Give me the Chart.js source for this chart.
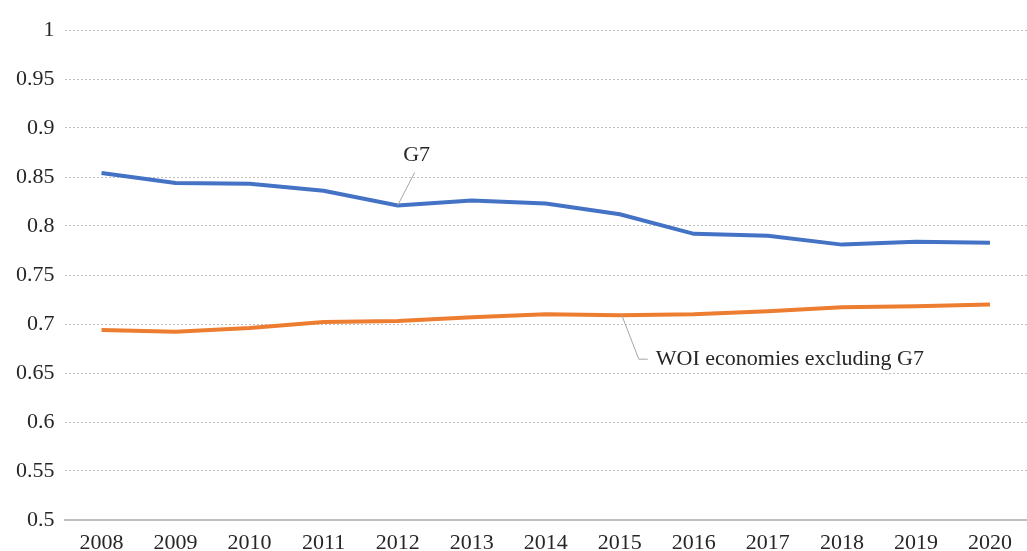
<!DOCTYPE html>
<html>
<head>
<meta charset="utf-8">
<script src="https://cdn.jsdelivr.net/npm/chart.js@4/dist/chart.umd.min.js"></script>
<style>
  html, body { margin: 0; padding: 0; background: #fff; }
  #wrap { width: 1027px; height: 551px; position: relative; }
</style>
</head>
<body>
<div id="wrap"><canvas id="chart"></canvas></div>
<script>
const years = ['2008','2009','2010','2011','2012','2013','2014','2015','2016','2017','2018','2019','2020'];
const g7 = [0.854, 0.844, 0.843, 0.836, 0.821, 0.826, 0.823, 0.812, 0.792, 0.790, 0.781, 0.784, 0.783];
const woiExG7 = [0.694, 0.692, 0.696, 0.702, 0.703, 0.707, 0.710, 0.709, 0.710, 0.713, 0.717, 0.718, 0.720];
const yTicks = [0.5, 0.55, 0.6, 0.65, 0.7, 0.75, 0.8, 0.85, 0.9, 0.95, 1];

const serif = '"Liberation Serif", "DejaVu Serif", serif';

// leader-line labels, like the Excel data callouts
const callouts = {
  id: 'callouts',
  afterDatasetsDraw(chart) {
    const ctx = chart.ctx;
    const a = chart.getDatasetMeta(0).data[4];
    const b = chart.getDatasetMeta(1).data[7];
    ctx.save();
    ctx.strokeStyle = '#a6a6a6';
    ctx.lineWidth = 1;
    ctx.beginPath();
    ctx.moveTo(a.x, a.y);
    ctx.lineTo(a.x + 17, a.y - 33);
    ctx.moveTo(b.x + 2, b.y);
    ctx.lineTo(b.x + 19, b.y + 44);
    ctx.lineTo(b.x + 28, b.y + 44);
    ctx.stroke();
    ctx.fillStyle = '#262626';
    ctx.font = '22px ' + serif;
    ctx.textBaseline = 'middle';
    ctx.textAlign = 'center';
    ctx.fillText('G7', a.x + 19, a.y - 50);
    ctx.textAlign = 'left';
    ctx.fillText('WOI economies excluding G7', b.x + 36, b.y + 44);
    ctx.restore();
  }
};

new Chart(document.getElementById('chart'), {
  type: 'line',
  data: {
    labels: years,
    datasets: [
      { label: 'G7', data: g7, borderColor: '#4472c4', borderWidth: 4, pointRadius: 0, tension: 0, fill: false },
      { label: 'WOI economies excluding G7', data: woiExG7, borderColor: '#ed7d31', borderWidth: 4, pointRadius: 0, tension: 0, fill: false }
    ]
  },
  options: {
    responsive: true,
    maintainAspectRatio: false,
    animation: false,
    layout: { padding: { top: 30, right: 0, left: 6, bottom: 0 } },
    plugins: { legend: { display: false }, tooltip: { enabled: false } },
    scales: {
      x: {
        offset: true,
        afterFit(scale) { scale.height = 31; },
        grid: { display: false, drawTicks: false },
        border: { display: true, color: '#bfbfbf', width: 2 },
        ticks: { color: '#262626', font: { family: serif, size: 22 }, padding: 10, maxRotation: 0 }
      },
      y: {
        min: 0.5,
        max: 1,
        afterBuildTicks(scale) { scale.ticks = yTicks.map(v => ({ value: v })); },
        grid: { color: '#bfbfbf', lineWidth: 1, drawTicks: false },
        border: { display: false, dash: [2, 2] },
        ticks: {
          color: '#262626',
          font: { family: serif, size: 22 },
          padding: 10,
          callback: v => String(Math.round(v * 100) / 100)
        }
      }
    }
  },
  plugins: [callouts]
});
</script>
</body>
</html>
